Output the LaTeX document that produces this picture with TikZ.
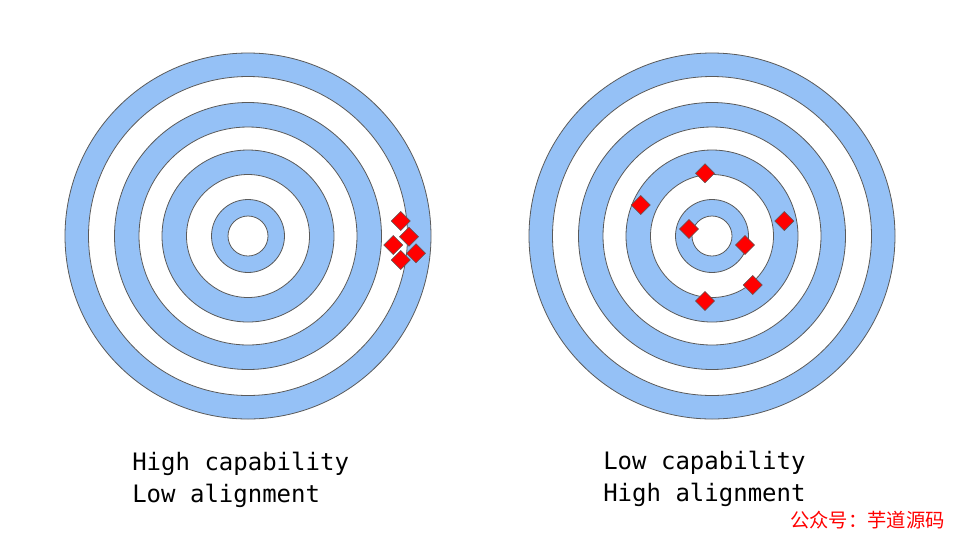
\documentclass[tikz,border=0pt]{standalone}
\usepackage{fontspec}
\usetikzlibrary{shapes.geometric}
\newfontfamily\monofnt{DejaVu Sans Mono}
\newfontfamily\cjkfnt{Noto Sans CJK SC}
\definecolor{ringblue}{RGB}{149,193,246}
\definecolor{ringedge}{RGB}{90,90,90}
\definecolor{mark}{RGB}{255,0,0}
\tikzset{
  bluering/.style={fill=ringblue,draw=ringedge,line width=0.6pt},
  whitering/.style={fill=white,draw=ringedge,line width=0.6pt},
  hit/.style={shape=diamond,aspect=1,fill=mark,draw=ringedge,line width=0.4pt,minimum size=14.5pt,inner sep=0pt},
  caption/.style={font=\monofnt\fontsize{18}{24}\selectfont,anchor=base west,inner sep=0pt},
  wmark/.style={font=\cjkfnt\fontsize{14.5}{16}\selectfont,text=mark,anchor=base west,inner sep=0pt}
}
\begin{document}
\begin{tikzpicture}[x=0.75pt,y=-0.75pt]
\useasboundingbox[fill=white] (0,0) rectangle (960,540);
% targets
\foreach \cx/\nm in {248/L,712/R}{
  \coordinate (\nm c) at (\cx,236);
  \filldraw[bluering] (\nm c) circle[radius=183];
  \filldraw[whitering] (\nm c) circle[radius=159.5];
  \filldraw[bluering] (\nm c) circle[radius=133.5];
  \filldraw[whitering] (\nm c) circle[radius=109];
  \filldraw[bluering] (\nm c) circle[radius=86];
  \filldraw[whitering] (\nm c) circle[radius=61.5];
  \filldraw[bluering] (\nm c) circle[radius=36.5];
  \filldraw[whitering] (\nm c) circle[radius=20];
}
% left hits
\node[hit] (l1) at (400.7,221) {};
\node[hit] (l2) at (409,236.7) {};
\node[hit] (l3) at (393.3,245) {};
\node[hit] (l4) at (416,253.3) {};
\node[hit] (l5) at (400.7,260) {};
% right hits
\node[hit] (r1) at (705,173.3) {};
\node[hit] (r2) at (640.7,205) {};
\node[hit] (r3) at (689,229) {};
\node[hit] (r4) at (784.3,221) {};
\node[hit] (r5) at (745,245) {};
\node[hit] (r6) at (752.7,285) {};
\node[hit] (r7) at (705,301) {};
% captions
\node[caption] (t1) at (132,470) {High capability};
\node[caption] (t2) at (132,502) {Low alignment};
\node[caption] (t3) at (603,469) {Low capability};
\node[caption] (t4) at (603,501.5) {High alignment};
\node[wmark] (wm) at (790,527.5) {公众号：芋道源码};
\end{tikzpicture}
\end{document}
